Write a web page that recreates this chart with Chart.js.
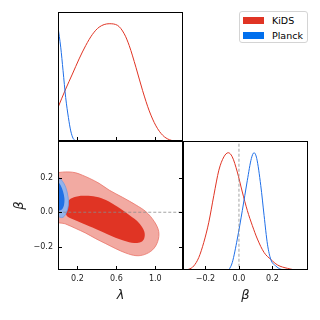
<!DOCTYPE html>
<html>
<head>
<meta charset="utf-8">
<script src="https://cdn.jsdelivr.net/npm/chart.js@4/dist/chart.umd.min.js"></script>
<style>
  html, body { margin: 0; padding: 0; background: #fff; }
  #wrap { position: relative; width: 320px; height: 320px; font-family: "DejaVu Sans", sans-serif; }
  #wrap canvas { position: absolute; left: 0; top: 0; }
  .legend { position: absolute; left: 239px; top: 11px; width: 67px; height: 30px;
    border: 1px solid #d4d4d4; border-radius: 3px; background: #fff; }
  .legend .sw { position: absolute; left: 3px; width: 21px; height: 7px; }
  .legend .lb { position: absolute; left: 32px; font-size: 9.5px; line-height: 11px; color: #000; }
</style>
</head>
<body>
<div id="wrap">
  <canvas id="c-lam" width="320" height="320"></canvas>
  <canvas id="c-2d" width="320" height="320"></canvas>
  <canvas id="c-beta" width="320" height="320"></canvas>
  <div class="legend">
    <span class="sw" style="top:5px;background:#e03424"></span><span class="lb" style="top:3px">KiDS</span>
    <span class="sw" style="top:20px;background:#006fed"></span><span class="lb" style="top:18px">Planck</span>
  </div>
</div>
<script>
// axis ranges + ticks
const LAMBDA_RANGE = [0, 1.285];
const BETA_RANGE = [-0.334, 0.412];
const LAMBDA_TICKS = [0.2, 0.6, 1.0];
const BETA_TICKS = [-0.2, 0.0, 0.2];

// 1D marginals (normalised to peak = 1)
const KIDS_LAMBDA_X = [0.0, 0.079, 0.148, 0.217, 0.285, 0.354, 0.423, 0.526, 0.612, 0.681, 0.732, 0.801, 0.87, 0.938, 1.007, 1.076, 1.145, 1.23, 1.285];
const KIDS_LAMBDA_P = [0.286, 0.443, 0.571, 0.70, 0.814, 0.909, 0.971, 1.0, 0.986, 0.914, 0.814, 0.629, 0.429, 0.257, 0.129, 0.049, 0.011, 0.0, 0.0];
const PLANCK_LAMBDA_X = [0.0, 0.028, 0.052, 0.079, 0.107, 0.131, 0.155, 0.182];
const PLANCK_LAMBDA_P = [0.971, 0.80, 0.60, 0.371, 0.20, 0.086, 0.023, 0.0];

const KIDS_BETA_X = [-0.334, -0.30, -0.27, -0.24, -0.21, -0.18, -0.15, -0.12, -0.09, -0.064, -0.04, -0.01, 0.02, 0.05, 0.08, 0.11, 0.15, 0.19, 0.23, 0.29, 0.35, 0.412];
const KIDS_BETA_P = [0.0, 0.006, 0.034, 0.106, 0.235, 0.407, 0.636, 0.851, 0.965, 1.0, 0.965, 0.836, 0.665, 0.507, 0.378, 0.264, 0.149, 0.09, 0.043, 0.014, 0.0, 0.0];
const PLANCK_BETA_X = [-0.06, -0.04, -0.01, 0.02, 0.05, 0.074, 0.09, 0.106, 0.13, 0.15, 0.17, 0.19, 0.22, 0.25, 0.28];
const PLANCK_BETA_P = [0.0, 0.063, 0.264, 0.507, 0.765, 0.951, 1.0, 0.951, 0.722, 0.464, 0.22, 0.09, 0.034, 0.006, 0.0];

// 2D contours (lambda, beta) — outer = 95%, inner = 68%
const KIDS_95_LAMBDA = [-0.02, 0.045, 0.114, 0.183, 0.251, 0.32, 0.423, 0.526, 0.664, 0.801, 0.904, 0.99, 1.035, 1.025, 0.973, 0.887, 0.801, 0.698, 0.595, 0.492, 0.389, 0.286, 0.183, 0.079, -0.02, -0.02];
const KIDS_95_BETA = [0.228, 0.232, 0.233, 0.228, 0.214, 0.197, 0.167, 0.128, 0.086, 0.042, 0.003, -0.054, -0.111, -0.169, -0.217, -0.245, -0.251, -0.236, -0.211, -0.182, -0.153, -0.121, -0.094, -0.068, -0.048, 0.228];
const KIDS_68_LAMBDA = [0.072, 0.079, 0.114, 0.183, 0.286, 0.389, 0.492, 0.612, 0.732, 0.835, 0.887, 0.887, 0.853, 0.784, 0.68, 0.561, 0.423, 0.286, 0.165, 0.097, 0.072];
const KIDS_68_BETA = [0.003, 0.032, 0.071, 0.09, 0.095, 0.09, 0.071, 0.032, -0.016, -0.063, -0.111, -0.15, -0.172, -0.178, -0.165, -0.14, -0.106, -0.073, -0.044, -0.025, 0.003];
const PLANCK_95_LAMBDA = [-0.02, 0.0, 0.045, 0.079, 0.103, 0.107, 0.09, 0.062, 0.038, 0.0, -0.02, -0.02];
const PLANCK_95_BETA = [0.21, 0.206, 0.18, 0.145, 0.09, 0.042, 0.003, -0.025, -0.031, -0.025, -0.025, 0.21];
const PLANCK_68_LAMBDA = [-0.02, 0.0, 0.028, 0.052, 0.066, 0.062, 0.045, 0.018, 0.0, -0.02, -0.02];
const PLANCK_68_BETA = [0.18, 0.177, 0.155, 0.12, 0.08, 0.042, 0.019, 0.01, 0.012, 0.012, 0.18];

const FONT = "DejaVu Sans";
const RED = "#e03424", RED_LIGHT = "#f2aaa2";
const BLUE = "#1f6fe8", BLUE_DARK = "#2071e5", BLUE_LIGHT = "#94b3ea";
const GREY = "#8a8a8a";

const pts = (xs, ys) => xs.map((x, i) => ({ x, y: ys[i] }));
const fmt = (v) => (v < 0 ? "\u2212" : "") + Math.abs(v).toFixed(1);

// frame + inward matplotlib-style ticks
const frameTicks = {
  id: "frameTicks",
  afterDatasetsDraw(chart, args, opts) {
    const { ctx, chartArea: a, scales } = chart;
    ctx.save();
    ctx.strokeStyle = "#000";
    ctx.lineWidth = 1;
    for (const m of opts.marks || []) {
      const s = scales[m.scale];
      for (const v of m.values) {
        const p = Math.round(s.getPixelForValue(v)) + 0.5;
        ctx.beginPath();
        if (m.side === "bottom") { ctx.moveTo(p, a.bottom); ctx.lineTo(p, a.bottom - 4); }
        if (m.side === "left") { ctx.moveTo(a.left, p); ctx.lineTo(a.left + 4, p); }
        if (m.side === "right") { ctx.moveTo(a.right, p); ctx.lineTo(a.right - 4, p); }
        ctx.stroke();
      }
    }
    ctx.strokeRect(a.left + 0.5, a.top + 0.5, a.right - a.left - 1, a.bottom - a.top - 1);
    ctx.restore();
  },
};

const curve = (data, color) => ({
  data, showLine: true, borderColor: color, borderWidth: 1, pointRadius: 0,
  cubicInterpolationMode: "monotone", fill: false, clip: 0,
});
const area = (data, fillColor, edge, edgeWidth) => ({
  data, showLine: true, backgroundColor: fillColor, borderColor: edge || "rgba(0,0,0,0)",
  borderWidth: edgeWidth || 0, pointRadius: 0, tension: 0.35, fill: "shape", clip: 0,
});
const dashed = (data) => ({
  data, showLine: true, borderColor: GREY, borderWidth: 0.8, borderDash: [3, 2],
  pointRadius: 0, fill: false, clip: 0,
});

const tickFont = { family: FONT, size: 8 };
const titleFont = { family: FONT, size: 13, style: "italic" };
const hidden = (min, max) => ({ type: "linear", min, max, display: false });
const xAxis = (range, ticks, label) => ({
  type: "linear", min: range[0], max: range[1],
  afterBuildTicks: (s) => { s.ticks = ticks.map((value) => ({ value })); },
  afterFit: (s) => { s.height = 40; },
  grid: { display: false, drawTicks: false }, border: { display: false },
  ticks: { padding: 4, color: "#222", font: tickFont, callback: fmt, maxRotation: 0 },
  title: { display: true, text: label, color: "#222", font: titleFont, padding: { top: 0, bottom: 7 } },
});

const base = (padding, scales, marks) => ({
  responsive: false, animation: false, events: [],
  layout: { padding },
  plugins: { legend: { display: false }, tooltip: { enabled: false }, frameTicks: { marks } },
  scales,
});

// top-left: lambda marginal
new Chart(document.getElementById("c-lam"), {
  type: "scatter",
  data: { datasets: [
    curve(pts(PLANCK_LAMBDA_X, PLANCK_LAMBDA_P), BLUE),
    curve(pts(KIDS_LAMBDA_X, KIDS_LAMBDA_P), RED),
  ] },
  options: base({ left: 58, top: 12, right: 137, bottom: 179 },
    { x: hidden(LAMBDA_RANGE[0], LAMBDA_RANGE[1]), y: hidden(0, 1.1) },
    [{ scale: "x", side: "bottom", values: LAMBDA_TICKS }]),
  plugins: [frameTicks],
});

// bottom-left: lambda vs beta contours
new Chart(document.getElementById("c-2d"), {
  type: "scatter",
  data: { datasets: [
    dashed([{ x: -0.1, y: 0 }, { x: 1.4, y: 0 }]),
    area(pts(PLANCK_68_LAMBDA, PLANCK_68_BETA), BLUE_DARK),
    area(pts(PLANCK_95_LAMBDA, PLANCK_95_BETA), BLUE_LIGHT, "#6f9be6", 0.8),
    area(pts(KIDS_68_LAMBDA, KIDS_68_BETA), RED),
    area(pts(KIDS_95_LAMBDA, KIDS_95_BETA), RED_LIGHT, "#ea7468", 0.8),
  ] },
  options: base({ left: 8, top: 141, right: 137, bottom: 10 }, {
    x: xAxis(LAMBDA_RANGE, LAMBDA_TICKS, "\u03bb"),
    y: {
      type: "linear", min: BETA_RANGE[0], max: BETA_RANGE[1],
      afterBuildTicks: (s) => { s.ticks = BETA_TICKS.map((value) => ({ value })); },
      afterFit: (s) => { s.width = 50; },
      grid: { display: false, drawTicks: false }, border: { display: false },
      ticks: { padding: 5, color: "#222", font: tickFont, callback: fmt },
      title: { display: true, text: "\u03b2", color: "#222", font: titleFont, padding: { top: 4, bottom: 0 } },
    },
  }, [
    { scale: "x", side: "bottom", values: LAMBDA_TICKS },
    { scale: "y", side: "left", values: BETA_TICKS },
    { scale: "y", side: "right", values: BETA_TICKS },
  ]),
  plugins: [frameTicks],
});

// bottom-right: beta marginal
new Chart(document.getElementById("c-beta"), {
  type: "scatter",
  data: { datasets: [
    dashed([{ x: 0, y: -0.1 }, { x: 0, y: 1.2 }]),
    curve(pts(PLANCK_BETA_X, PLANCK_BETA_P), BLUE),
    curve(pts(KIDS_BETA_X, KIDS_BETA_P), RED),
  ] },
  options: base({ left: 183, top: 141, right: 12, bottom: 10 }, {
    x: xAxis(BETA_RANGE, BETA_TICKS, "\u03b2"),
    y: hidden(0, 1.1),
  }, [{ scale: "x", side: "bottom", values: BETA_TICKS }]),
  plugins: [frameTicks],
});
</script>
</body>
</html>
